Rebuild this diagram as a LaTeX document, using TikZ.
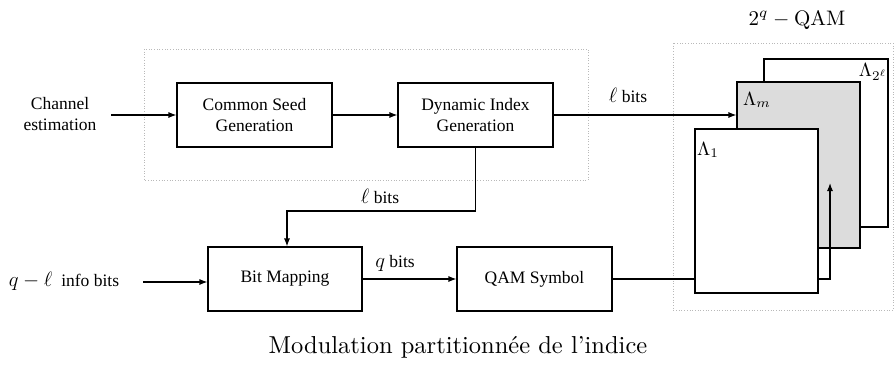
\documentclass[tikz,border=0pt]{standalone}
\usepackage{fontspec}
\newfontfamily\tms{Liberation Serif}
\usetikzlibrary{arrows.meta}
\newcommand{\mth}[1]{\scalebox{1.2}{$#1$}}
\newcommand{\bigcm}[2]{\scalebox{#1}{\fontsize{10}{12}\selectfont #2}}
\tikzset{
  blk/.style={draw, line width=1.1pt, minimum width=155pt, minimum height=64pt, inner sep=0pt, align=center, font=\tms\fontsize{17.5}{21}\selectfont},
  lab/.style={inner sep=0pt, align=center, font=\tms\fontsize{17.5}{21}\selectfont},
  plane/.style={draw, line width=1.1pt, inner sep=0pt},
  grp/.style={draw=gray!55, dotted, line width=0.7pt},
  arr/.style={line width=1.1pt, -{Latex[length=8pt,width=6pt]}},
  ml/.style={inner sep=0pt},
}
\definecolor{planegray}{RGB}{220,220,220}
\begin{document}
\begin{tikzpicture}[x=1pt,y=-1pt]
\useasboundingbox (0,0) rectangle (896,368);
% groups
\draw[grp] (144,49) rectangle (588,180);
\draw[grp] (673,43) rectangle (893,310);
% blocks
\node[blk] (cs) at (254.5,115) {Common Seed\\Generation};
\node[blk] (di) at (475.5,115) {Dynamic Index\\Generation};
\node[blk, minimum width=154pt] (bm) at (285,279) {Bit Mapping};
\node[blk] (qs) at (534.5,279) {QAM Symbol};
% inputs
\node[lab] (chan) at (60,114) {Channel\\estimation};
\node[lab] (info) at (64,281) {\mth{q-\ell}\enspace info bits};
\coordinate (ce) at (111,115);
\coordinate (qi) at (143,282);
\draw[arr] (ce) -- (cs.west);
\draw[arr] (qi) -- (qi -| bm.west);
\draw[arr] (cs) -- (di);
\draw[arr] (bm.east |- qs.west) -- (qs.west);
% planes
\node[plane, fill=white, minimum width=124pt, minimum height=168pt] (l2) at (826,143) {};
\node[plane, fill=planegray, minimum width=123pt, minimum height=166pt] (lm) at (798.5,165) {};
\draw[arr] (di.east) -- (di.east -| lm.west);
\coordinate (up) at (830,183);
\draw[arr] (qs.east) -| (up);
\node[plane, fill=white, minimum width=123pt, minimum height=164pt] (l1) at (756.5,211) {};
\node[ml] (t2) at (873,72) {\bigcm{1.9}{$\Lambda_{2^\ell}$}};
\node[ml] (tm) at (757,100) {\bigcm{1.9}{$\Lambda_m$}};
\node[ml] (t1) at (708,150) {\bigcm{1.9}{$\Lambda_1$}};
% feedback
\coordinate (mid) at (287,211);
\draw[arr] (di.south) |- (mid) -- (mid |- bm.north);
% labels
\node[lab] (lb1) at (628,95) {\mth{\ell} bits};
\node[lab] (lb2) at (380,196) {\mth{\ell} bits};
\node[lab] (qb) at (395,263) {\mth{q} bits};
\node[ml] (qam) at (797,20) {\bigcm{2.1}{$2^q-\mathrm{QAM}$}};
\node[ml] (cap) at (458,347) {\bigcm{2.45}{Modulation partitionnée de l’indice}};
\end{tikzpicture}
\end{document}
